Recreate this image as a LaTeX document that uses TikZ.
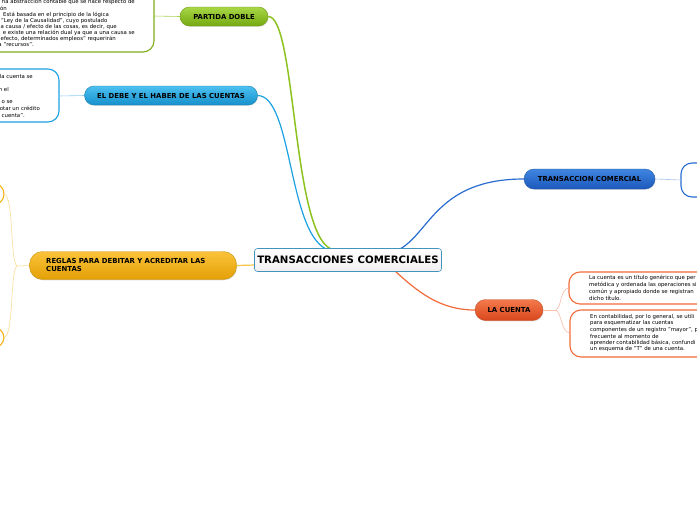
\documentclass[tikz,border=0pt]{standalone}
\usepackage{fontspec}
\setmainfont{DejaVu Sans}
\usetikzlibrary{shadows}
\definecolor{cgreen}{HTML}{8DC21F}
\definecolor{cblue}{HTML}{1BA1E2}
\definecolor{cdblue}{HTML}{2A6DD0}
\definecolor{corange}{HTML}{F26B3A}
\definecolor{cyellow}{HTML}{F7B518}
\definecolor{pgreenT}{HTML}{A8D645}
\definecolor{pgreenB}{HTML}{74A912}
\definecolor{pblueT}{HTML}{4CC0F0}
\definecolor{pblueB}{HTML}{1690CC}
\definecolor{pyelT}{HTML}{FBC33A}
\definecolor{pyelB}{HTML}{E39F06}
\definecolor{pdbT}{HTML}{3F86E0}
\definecolor{pdbB}{HTML}{1C58BC}
\definecolor{porT}{HTML}{F47A4C}
\definecolor{porB}{HTML}{D8461C}
\tikzset{
  pill/.style={rounded corners=9.5pt, inner sep=0pt, align=center, font=\fontsize{6.9}{7.9}\selectfont\bfseries, draw=#1!80!black, line width=0.4pt,
     drop shadow={shadow xshift=0.6pt, shadow yshift=-0.8pt, opacity=0.25}},
  body/.style={inner sep=0pt, font=\fontsize{5.4}{6.4}\selectfont, text=black},
  bodyE/.style={body, anchor=east},
  bodyW/.style={body, anchor=west},
  frame/.style={draw=#1, line width=1.1pt, fill=white, rounded corners=11pt},
  branch/.style={draw=#1, line width=1.2pt},
  twig/.style={draw=#1, line width=0.6pt},
}
\begin{document}
\begin{tikzpicture}[x=1pt,y=-1pt]
\useasboundingbox (0,0) rectangle (697,520);
\fill[white] (0,0) rectangle (697,520);

% main branch anchors
\coordinate (cg) at (331,249);
\coordinate (cb) at (326,249);
\coordinate (cd) at (400,249);
\coordinate (co) at (395,271);
\coordinate (cy) at (255,265);

% side frames
\draw[frame=cgreen!90!black] (-20,-20) rectangle (154,52);
\draw[frame=cblue] (-20,69) rectangle (59,122);
\draw[frame=cyellow] (-30,183) rectangle (4,205);
\draw[frame=cyellow] (-30,327) rectangle (4,348);
\draw[frame=cdblue] (681,163) rectangle (720,197);
\draw[frame=corange] (569,272) rectangle (720,304);
\draw[frame=corange] (570,310) rectangle (720,357);
\coordinate (fg) at (154,16);
\coordinate (fb) at (59,96);
\coordinate (fy1) at (4,194);
\coordinate (fy2) at (4,337.5);
\coordinate (fd) at (681,180);
\coordinate (fo1) at (569,288);
\coordinate (fo2) at (570,333);
\coordinate (jy) at (17,266);
\coordinate (jo) at (556,310);

% pills
\node[pill=cgreen, top color=pgreenT, bottom color=pgreenB, minimum width=88pt, minimum height=19pt] (pd) at (224,16.5) {PARTIDA DOBLE};
\node[pill=cblue, top color=pblueT, bottom color=pblueB, minimum width=173pt, minimum height=19pt] (dh) at (171,95.5) {EL DEBE Y EL HABER DE LAS CUENTAS};
\node[pill=cyellow, top color=pyelT, bottom color=pyelB, minimum width=207pt, minimum height=28pt, rounded corners=13pt] (rg) at (133,265.5) {};
\node[anchor=north west, inner sep=0pt, align=left, font=\fontsize{6.9}{7.6}\selectfont\bfseries] (rgt) at (46,258.3) {REGLAS PARA DEBITAR Y ACREDITAR LAS\\CUENTAS};
\node[pill=cdblue, top color=pdbT, bottom color=pdbB, minimum width=131pt, minimum height=20pt, rounded corners=10pt] (tc) at (589.5,179) {TRANSACCION COMERCIAL};
\node[pill=corange, top color=porT, bottom color=porB, minimum width=68pt, minimum height=21pt, rounded corners=10.5pt] (lc) at (509,310) {LA CUENTA};

% connectors
\draw[branch=cgreen, line width=1.5pt] (cg) .. controls (292,232) and (296,16) .. (pd.east);
\draw[branch=cblue] (cb) .. controls (288,230) and (292,96) .. (dh.east);
\draw[branch=cdblue] (cd) .. controls (430,232) and (438,179) .. (tc.west);
\draw[branch=corange] (co) .. controls (418,292) and (440,310) .. (lc.west);
\draw[branch=cyellow!80!white] (cy) -- (rg.east);
\draw[twig=cgreen!75!white] (pd.west) -- (fg);
\draw[twig=cblue!50!white] (dh.west) -- (fb);
\draw[twig=cdblue!40!white] (tc.east) -- (fd);
\draw[twig=cyellow!45!white] (rg.west) -- (jy);
\draw[twig=cyellow!45!white] (jy) .. controls (10,262) and (14,196) .. (fy1);
\draw[twig=cyellow!45!white] (jy) .. controls (10,270) and (14,336) .. (fy2);
\draw[twig=corange!45!white] (lc.east) -- (jo);
\draw[twig=corange!45!white] (jo) .. controls (562,306) and (560,289) .. (fo1);
\draw[twig=corange!45!white] (jo) .. controls (562,314) and (561,332) .. (fo2);

% central node
\node[draw=cblue!60!gray, line width=0.6pt, rounded corners=3pt, top color=white, bottom color=gray!12, minimum width=187pt, minimum height=23pt, inner sep=0pt, font=\fontsize{10.2}{11}\selectfont\bfseries] (tcm) at (348,260) {TRANSACCIONES COMERCIALES};

% green frame text
\node[bodyE] (g1) at (135,2) {na abstracción contable que se hace respecto de};
\node[bodyE] (g2) at (7,8.5) {ón};
\node[bodyW] (g3) at (3,15) {Está basada en el principio de la lógica};
\node[bodyW] (g4) at (1,21) {"Ley de la Causalidad", cuyo postulado};
\node[bodyE] (g5) at (117,27) {a causa / efecto de las cosas, es decir, que};
\node[bodyE] (g6) at (135,33) {e existe una relación dual ya que a una causa se};
\node[bodyW] (g7) at (0.5,39) {efecto, determinados empleos" requerirán};
\node[bodyE] (g8) at (34,45) {a "recursos".};

% blue frame text
\node[bodyE] (b1) at (33,76.5) {la cuenta se};
\node[bodyE] (b2) at (9,89.5) {n el};
\node[bodyE] (b3) at (13,102.5) {o se};
\node[bodyE] (b4) at (40,108.7) {otar un crédito};
\node[bodyE] (b5) at (25,115.5) {cuenta".};

% orange frame text
\node[bodyW] (o1) at (589,277.5) {La cuenta es un título genérico que per};
\node[bodyW] (o2) at (589,284.5) {metódica y ordenada las operaciones si};
\node[bodyW] (o3) at (589,291.5) {común y apropiado donde se registran};
\node[bodyW] (o4) at (589,298) {dicho título.};
\node[bodyW] (o5) at (590,317) {En contabilidad, por lo general, se utili};
\node[bodyW] (o6) at (590,323.5) {para esquematizar las cuentas};
\node[bodyW] (o7) at (590,330) {componentes de un registro "mayor", p};
\node[bodyW] (o8) at (590,336.5) {frecuente al momento de};
\node[bodyW] (o9) at (590,343) {aprender contabilidad básica, confundi};
\node[bodyW] (o10) at (590,349.5) {un esquema de "T" de una cuenta.};
\end{tikzpicture}
\end{document}
